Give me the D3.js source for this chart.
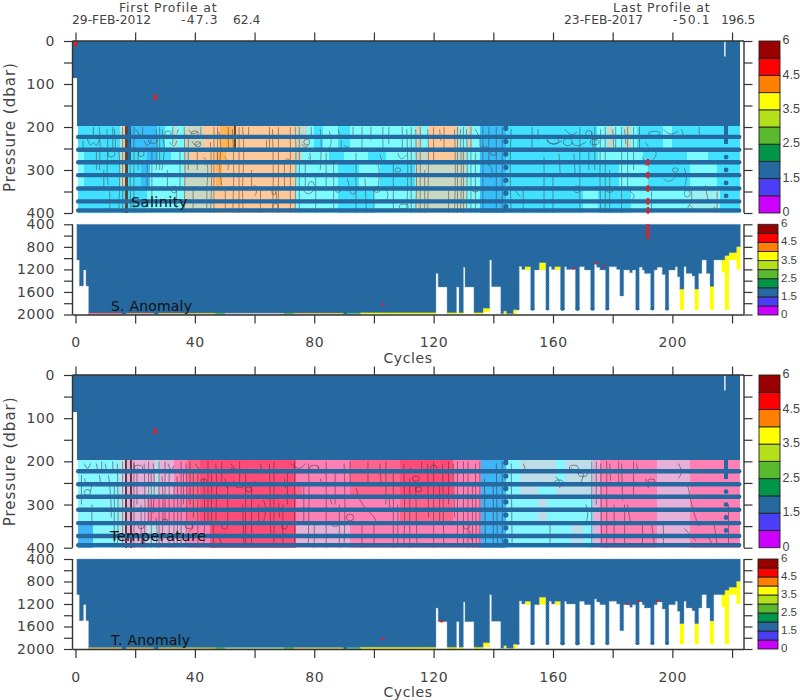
<!DOCTYPE html>
<html><head><meta charset="utf-8">
<script src="https://d3js.org/d3.v7.min.js"></script>
<style>
html,body{margin:0;padding:0;background:#fff}
svg{display:block}
text{font-family:"DejaVu Sans",sans-serif;fill:#444}
.bar{font-family:"Liberation Sans",sans-serif}
</style></head><body><div id="c"></div>
<script>
// ---------- values ----------
const colorClasses = ["#CC00FF","#4A3FF5","#2569A0","#009649","#59BA2E","#B3E019","#FFFF00","#FF8000","#FF0000","#990000"];
const colorTickLabels = [[0,"0"],[2,"1.5"],[4,"2.5"],[6,"3.5"],[8,"4.5"],[10,"6"]];
const steel = "#2569A0";
const cycleTicks = [0,20,40,60,80,100,120,140,160,180,200,220];
const cycleLabels = [0,40,80,120,160,200];
const upperPressTicks = [0,50,100,150,200,250,300,350,400];
const upperPressLabels = [0,100,200,300,400];
const lowerPressTicks = [400,600,800,1000,1200,1400,1600,1800,2000];
const lowerPressLabels = [400,800,1200,1600,2000];
const rowLevels = [223,253,282,312,343,373,394];
const bandEdges = [198,225,253,282,312,343,373,400];
const bandGroup = [0,0,1,2,2,3,3];

const salPalette = {a:"#7CFBFF",b:"#42E0FF",c:"#36BDFA",p:"#FFC898",o:"#FFB257",g:"#C9D8C2",k:"#5C4A3C",n:"#1F6FB0",t:"#9CF0F0"};
const salinityRuns = [
 [[0.7,"b"],[15,"g"],[16.6,"k"],[17.6,"n"],[18.6,"c"],[25,"c"],[27.3,"b"],[30,"a"],[33,"g"],[34,"a"],[36.2,"g"],[42.9,"p"],[48.5,"o"],[53,"k"],[53.8,"p"],[73.6,"g"],[77.5,"a"],[80,"b"],[83,"a"],[88,"b"],[92,"a"],[113.7,"g"],[116,"a"],[118.2,"p"],[127,"g"],[129,"a"],[131,"g"],[133,"a"],[135.5,"c"],[144.4,"b"],[162,"b"],[174.6,"a"],[178,"g"],[180,"a"],[184,"g"],[186,"a"],[188,"b"],[197,"a"],[200,"b"]],
 [[0.7,"a"],[3,"b"],[15,"g"],[16.6,"k"],[17.6,"n"],[18.6,"b"],[24,"c"],[27.3,"b"],[32,"a"],[36.2,"g"],[38.5,"p"],[47,"o"],[50.5,"p"],[73.6,"g"],[76,"a"],[85,"b"],[90,"a"],[98,"b"],[104,"a"],[113.7,"g"],[118.2,"p"],[127,"g"],[131,"a"],[135.5,"c"],[144.4,"b"],[165,"b"],[175,"a"],[190,"b"],[205,"a"],[212,"b"]],
 [[0.7,"a"],[3,"b"],[15,"g"],[16.6,"k"],[17.6,"b"],[22,"c"],[25,"a"],[36.2,"g"],[45,"p"],[47,"o"],[49,"p"],[73.6,"a"],[88,"b"],[95,"a"],[102,"b"],[113.7,"g"],[119,"g"],[127,"g"],[131,"a"],[135.5,"c"],[144.4,"b"],[152,"b"],[172,"b"],[182,"a"],[192,"b"],[206,"a"],[215,"b"]],
 [[0.7,"b"],[14.5,"b"],[16.6,"k"],[17.6,"b"],[24,"a"],[36.2,"g"],[46,"p"],[73.6,"a"],[88,"b"],[100,"a"],[113.7,"g"],[127,"g"],[131,"a"],[135.5,"c"],[144.4,"b"],[170,"a"],[175,"b"],[186,"a"],[206,"t"],[216,"b"]]
];
const palTemp = {a:"#86F6FF",c:"#3FB4F6",b:"#52D2FF",q:"#BCDCE8",m:"#E6B0D8",i:"#FF80B4",h:"#FF4C76",r:"#FF648C",k:"#7C3444"};
const temperatureRuns = [
 [[0.7,"a"],[14.7,"q"],[16.6,"k"],[17.4,"m"],[18.2,"k"],[18.9,"m"],[26.7,"q"],[28.4,"m"],[33,"i"],[37.3,"r"],[41.8,"h"],[74,"i"],[92,"r"],[108.7,"h"],[126.6,"i"],[136,"c"],[144.4,"a"],[149,"q"],[161,"a"],[164,"q"],[173.5,"m"],[175.6,"i"],[195,"m"],[206,"i"]],
 [[0.7,"a"],[14.7,"q"],[16.6,"k"],[17.4,"m"],[18.2,"k"],[18.9,"m"],[24,"q"],[27.5,"m"],[33,"i"],[37.3,"r"],[41.8,"h"],[74,"r"],[76,"i"],[92,"r"],[108.7,"h"],[126.6,"i"],[136,"c"],[144.4,"a"],[149,"q"],[155,"a"],[161,"q"],[173.5,"m"],[175.6,"i"],[195,"m"],[206,"i"]],
 [[0.7,"a"],[14.7,"q"],[16.6,"k"],[17.4,"m"],[18.2,"k"],[18.9,"m"],[24,"i"],[37.3,"r"],[41.8,"h"],[74,"i"],[108.7,"r"],[126.6,"i"],[136,"c"],[144.4,"a"],[149,"a"],[155,"q"],[158,"a"],[173.5,"m"],[175.6,"i"],[195,"m"],[206,"i"]],
 [[0.7,"c"],[6,"a"],[14.7,"q"],[16.6,"k"],[17.4,"m"],[18.2,"k"],[18.9,"m"],[24,"q"],[27.5,"m"],[37.3,"i"],[45,"h"],[74,"m"],[92,"i"],[126.6,"i"],[136,"c"],[144.4,"a"],[166,"q"],[170,"a"],[173.5,"m"],[175.6,"i"],[195,"m"],[206,"i"]]
];

// blue column depth in the lower panels: [first cycle, last cycle, blue bottom, yellow bottom or 0]
const lowerColumns = [
 [0.45,1.3,1034,0],[1.3,2.7,1496,0],[2.7,3.5,1212,0],[3.5,4.4,1496,0],[4.4,95.4,2000,0],[95.4,120.8,1968,2000],
 [120.8,121.5,1271,0],[121.5,124.5,1514,0],[124.5,127.7,1968,2000],[127.7,128.5,1514,0],[128.5,130,1968,2000],
 [130,130.5,1164,0],[130.5,133.5,1514,0],[133.5,136.6,1968,2000],[136.6,138.8,1890,1960],[138.8,139.4,1034,0],
 [139.4,142.5,1508,0],[142.5,143.5,1988,0],[143.5,144.4,1940,1988],[144.4,145.5,1988,0],[145.5,146.7,1988,2000],
 [146.7,147.8,1917,1988],[147.8,148.7,1917,0],[148.7,149.5,1147,0],[149.5,150.6,1200,0],[150.6,152.5,1153,1212],
 [152.5,153.8,1917,0],[153.8,155.4,1212,0],[155.4,157.6,1081,1212],[157.6,158.7,1917,0],[158.7,159.5,1153,0],
 [159.5,160.6,1200,0],[160.6,162.5,1153,1212],[162.5,163.9,1917,0],[163.9,164.5,1153,0],[164.5,167.5,1200,0],
 [167.5,168.9,1917,0],[168.9,170.5,1153,0],[170.5,172.6,1212,0],[172.6,173.9,1917,0],[173.9,174.6,1111,0],
 [174.6,175.7,1164,0],[175.7,177.6,1212,0],[177.6,178.8,1917,0],[178.8,181.3,1153,0],[181.3,182.4,1200,0],
 [182.4,183.7,1674,0],[183.7,185.7,1212,0],[185.7,186.6,1259,0],[186.6,187.7,1212,0],[187.7,188.9,1917,0],
 [188.9,189.9,1164,0],[189.9,190.6,1212,0],[190.6,192.7,1271,0],[192.7,193.9,1917,0],[193.9,194.9,1212,0],
 [194.9,196.6,1164,0],[196.6,197.6,1289,0],[197.6,198.8,1917,0],[198.8,201,1212,0],[201,201.7,1153,0],
 [201.7,202.5,1330,0],[202.5,203.9,1550,1917],[203.9,204.6,1153,0],[204.6,206.6,1271,0],[206.6,207.5,1318,0],
 [207.5,208.8,1550,1917],[208.8,209.9,1271,0],[209.9,211.4,1034,0],[211.4,212.6,1271,0],[212.6,213.9,1502,1917],
 [213.9,216.5,1034,0],[216.5,217.6,1034,1253],[217.6,219,957,1917],[219,221.5,904,1034],[221.5,222.8,797,1200]
];
const salinityStrip = [[4.4,15.5,"#F07878"],[17,26.4,"#F0A070"],[27.8,40,"#E8B860"],[40,47,"#D8D050"],[47,50,"#58BA50"],[50,70,"#C8C8C8"],[70,73,"#58BA50"],[73,89.8,"#E0C860"],[91,95.4,"#60C880"]];
const temperatureStrip = [[4.4,15.5,"#D8C060"],[17,26.4,"#E0C050"],[27.8,40,"#D8D050"],[40,47,"#B8D050"],[47,50,"#58BA50"],[50,70,"#A8D8A8"],[70,73,"#58BA50"],[73,89.8,"#D8D060"],[91,95.4,"#60C880"]];
const salinityRed = [[167,1190],[174.5,1095],[177,1150]];
const temperatureRed = [[122.5,1512],[185,1205],[188.6,1150],[195,1150],[122.8,1515]];

const dots144 = [203,234,263,294,324,354,385];
const dots218 = [270,300,330,360];
const block218 = [198,240];
const sliver218 = [2,36];
const redUpper = [[0,0,12],[26.7,124,137]];
const redSalinityDots = [282,312,343,373,394];
const redSalinityLower = [400,660];
const redLower = [[103,1822]];

const contoursS = [
 [[4,228],[5,248],[6,230],[7,250],[8,228]],[[8,200],[8.3,240],[8,300]],[[10.5,205],[11,250],[10.4,302],[11,335]],[[13,205],[13.6,245],[13,255]],
 [[14.5,250],[15,300],[14.5,395]],[[17,200],[17.4,300],[17,400]],[[18.5,205],[18.2,330],[18.6,395]],[[20,205],[22,222],[21,228]],[[23,232],[24,248],[25.5,230]],
 [[27,205],[27.5,250],[27,300]],[[29,205],[29.5,235],[30,250],[29,300]],[[31.5,235],[33,250],[34,232]],[[34.5,205],[34,215]],[[36.4,200],[36.8,300],[36.4,400]],
 [[38,206],[39,218],[41,212]],[[39,232],[40,246],[42,235]],[[43,270],[44,280],[44.5,300],[44,340]],[[45.2,235],[45.8,320],[45.2,398]],[[48,210],[49,250],[48,290],[49,335]],
 [[50,270],[51.5,280],[51,300]],[[52.6,205],[53.2,290],[52.7,398]],[[56,200],[56.6,260],[55.8,345],[56.2,398]],[[60,335],[61,350],[60,360]],[[66,205],[66.4,310],[66,398]],
 [[67,350],[67.6,360],[67,372]],[[73.6,200],[74,260],[73.6,395]],[[76,240],[77,250],[78,242]],[[78,270],[79,280],[78.5,260]],[[76,345],[78,360],[80,346]],[[82,205],[82.5,240],[82,300]],
 [[85,210],[86,235],[85,250]],[[88,205],[88.6,225]],[[90,243],[92,250]],[[91,320],[92,340],[91,350]],[[97,320],[97.5,400]],[[101,280],[102,300],[101.5,340]],[[102,265],[103,285]],[[104,340],[105,360],[104,372]],
 [[108,260],[109,280],[111,264]],[[111,205],[111.5,300],[111,395]],[[114,205],[114.4,330],[114,395]],[[118,205],[118.4,260],[118,398]],[[122,205],[122.4,232]],[[127,205],[127.4,300],[127,398]],
 [[129,205],[129.4,330],[129,395]],[[131,205],[131.4,290],[131,398]],[[134,205],[136,232],[135,250],[138,245]],[[138,280],[140,300],[139,320]],[[146,205],[145.5,300],[146,398]],[[147,345],[149,362]],[[155,205],[155,230]],[[158,230],[160,245],[163,232]],
 [[162,262],[162.4,308]],[[164,205],[166,222],[168,212]],[[166,235],[168,248],[171,235]],[[167,262],[167.4,308]],[[173,210],[173.4,248]],[[176,205],[175.6,300],[176,398]],[[180,205],[180.4,248]],[[184,205],[184.4,240]],
 [[185,345],[188,360],[186,372]],[[191,236],[192,246]],[[194,250],[195,265],[193,280]],[[190,270],[191,290]],[[197,205],[199,220],[202,210]],[[197,320],[199,330],[201,316]],[[203,205],[204,222],[202,224]],[[204,295],[205,320],[204,340]],[[206,340],[207,365],[205,390]],[[211,335],[212,372]],[[206,382],[208,398]],[[214,385],[214.4,398]]
];
const verticalsS = [[2.5,232,250],[6,200,222],[7,255,300],[9.5,300,340],[11.5,350,395],[12.5,200,250],[15.8,200,400],[19.6,200,400],[21,255,300],[22.5,200,222],[24,285,340],[25.6,255,400],[28.2,200,300],[30.8,300,345],[32.6,200,240],[33.8,345,395],[35,250,345],[37.8,225,300],[39.4,345,395],[40.8,255,300],[42,200,225],[44,345,395],[46.4,200,400],[47.6,200,280],[50.2,345,395],[51.2,200,250],[54.8,200,400],[58,200,225],[59,300,345],[62,345,400],[64,230,250],[65,200,250],[68,200,400],[70,280,345],[72,200,400],[75,200,400],[77,285,345],[79,200,225],[80.5,315,400],[84,260,340],[86.5,285,395],[89,230,250],[93,200,225],[94,260,400],[96,200,250],[99,200,230],[100,345,400],[103,200,250],[105,200,240],[106.5,285,395],[109.5,200,250],[112.5,200,400],[115.5,200,400],[117,300,400],[120,200,280],[123.5,200,250],[125,345,400],[128,200,400],[130,200,400],[132.5,200,400],[134,260,400],[136.5,200,400],[138.5,200,290],[141,200,400],[143,200,400],[150,345,400],[153,200,250],[157,270,400],[160,315,400],[169,200,395],[172,255,300],[174,200,300],[177.5,200,400],[179,300,400],[181,200,250],[183,200,400],[185,200,340],[187,200,300],[189,200,250],[193,350,400],[209,200,225],[215,350,400]];
const loopsS = [[12,262,1.2,8],[22,262,1,7],[26,232,1.5,6],[31,215,1,6],[33,345,1,8],[40,215,1.2,6],[41,240,1,6],[66.5,350,0.7,8],[67,385,0.8,7],[71,280,0.7,6],[77.5,235,1,7],[79,335,1,8],[88,345,1,7],[93,350,1,6],[101,345,1.2,7],[108,300,1,5],[110,385,1.5,6],[134,345,1.2,6],[140,260,1,6],[160,232,2,7],[165,235,1.5,8],[168,345,1,8],[172,215,1,7],[174,235,1.5,6],[179,345,1.2,7],[194,215,2,5],[201,300,1,5],[205,355,1,8]];
const contoursT = [
 [[3,205],[4,222],[5,205]],[[7,205],[7.4,222]],[[10,205],[10.4,225]],[[3,240],[4,262],[6,242],[5,270]],[[8,232],[8.5,255]],[[11,232],[11.4,250],[12,300],[12,330]],[[14,205],[14.4,330],[14,400]],
 [[16.8,200],[17.2,300],[16.8,400]],[[18.4,200],[18.8,300],[18.4,400]],[[19.5,205],[20,225],[21,215]],[[23,205],[23.4,300],[23,400]],[[26,205],[26.6,250],[26,320]],[[27,330],[27.5,370],[27,400]],
 [[29,235],[29.5,300],[29,398]],[[31,205],[32,225],[33,210]],[[34,235],[34.4,300],[34,395]],[[37,205],[37.4,260],[37,395]],[[40,205],[42,222]],[[38,340],[40,355],[38,362]],[[43,240],[43.4,330],[43,395]],
 [[47,205],[47.4,250],[47,345]],[[48,370],[49,395]],[[52,205],[54,222],[52,215]],[[50,240],[51,262]],[[53,245],[54,262],[55,250]],[[56,300],[56.4,390]],[[60,245],[61,258]],[[62,205],[62.4,225]],[[63,290],[64,312],[63,340]],[[65,205],[65.4,370]],
 [[68,295],[68.4,330]],[[72,205],[75,222],[77,205]],[[70,240],[70.4,262]],[[78,205],[78.4,260],[78,395]],[[81,210],[82,222],[80,225]],[[82,240],[83,260]],[[85,280],[86,300]],[[90,205],[90.4,300],[90,395]],[[95,285],[97,310],[100,325],[101,345]],[[94,262],[95,285]],
 [[102,205],[102.4,255]],[[105,275],[105.4,312]],[[110,205],[110.4,320],[110,395]],[[112,215],[114,225],[111,222]],[[114,255],[114.4,395]],[[118,205],[118.3,330]],[[123,205],[123.4,395]],[[126.6,205],[127,330]],[[132,360],[133,385]],[[134,205],[134.3,398]],
 [[137,240],[137.4,395]],[[141,205],[141.4,395]],[[146,205],[146.3,395]],[[150,205],[151,222]],[[161,235],[163,255],[162,262]],[[166,215],[168,230],[171,222],[169,255]],[[171,300],[172,320],[171,345]],[[176,205],[176.3,398]],[[179,205],[179.3,245]],[[183,205],[183.3,290]],[[185,300],[186,345]],
 [[191,240],[192,262]],[[188,205],[188.4,225]],[[193,340],[194,395]],[[202,205],[203.5,225],[202,240]],[[205,250],[207,320],[209,350]],[[204,355],[208,385]],[[214,345],[215,395]],[[212,375],[214,398]]
];
const verticalsT = [[2,232,300],[5.5,300,345],[8.8,200,222],[12.5,200,222],[13,255,395],[15.8,200,400],[19.6,200,400],[20.6,225,300],[22,300,400],[24.5,200,345],[25.4,225,400],[28,200,400],[30,200,345],[31.4,225,400],[33,255,400],[35.4,200,400],[36.2,225,300],[38.4,200,300],[39.5,225,330],[41,225,400],[44.4,200,345],[45.6,225,345],[46.2,345,400],[49,200,250],[51,255,345],[55,200,250],[57,225,400],[59,255,400],[61.4,300,345],[66.5,200,400],[69.5,300,400],[71,225,300],[73.4,200,400],[76.5,255,345],[80,345,400],[84,200,400],[87,225,300],[88.4,300,400],[92,200,250],[96,345,400],[98,200,250],[100,345,395],[104,200,300],[106.5,225,400],[108,300,395],[112,240,400],[116,200,225],[120,200,400],[122,250,345],[125,200,300],[128,200,395],[130,200,395],[131.5,200,400],[133,250,400],[135.5,200,400],[140,255,395],[143,200,400],[159,345,395],[173,200,400],[174.5,200,300],[178,200,400],[180.5,300,395],[182,200,250],[184,300,395],[187,200,280],[190,345,395],[197,345,390],[218.8,300,395]];
const loopsT = [[4,272,1,7],[21,215,1.5,6],[22,350,1,6],[30,340,1,6],[38,350,1.3,6],[43,245,1,5],[50,350,1,7],[55,255,1.5,6],[58,265,1,6],[70,350,1,7],[80,215,1.5,6],[87,345,1.2,6],[92,330,1.2,8],[114,240,1.2,6],[115,265,1,6],[120,215,1,6],[162,250,1.5,7],[167,215,1.5,6],[170,230,1.5,5],[193,245,1.2,4],[131,350,1,7]];

// ---------- scales and helpers ----------
const W=800,H=700;
const svg=d3.select("#c").append("svg").attr("width",W).attr("height",H);
const x=d3.scaleLinear().domain([-1,224]).range([72.5,744]);
const axisColor="#333";
const fs=14;

function label(g,xp,yp,t,anchor,size,spacing){
  return g.append("text").attr("x",xp).attr("y",yp).attr("text-anchor",anchor||"start")
    .attr("font-size",size||fs).attr("letter-spacing",(spacing==null?0.6:spacing)+"px").text(t);
}

function yAxes(y,ticks,labels){
  const left=svg.append("g").attr("transform","translate(72.5,0)").call(
    d3.axisLeft(y).tickValues(ticks).tickSize(8.5).tickPadding(9)
      .tickFormat(d=>labels.includes(d)?d:""));
  const right=svg.append("g").attr("transform","translate(744,0)").call(
    d3.axisRight(y).tickValues(ticks).tickSize(8.5).tickFormat(""));
  [left,right].forEach(a=>{a.select(".domain").attr("stroke",axisColor).attr("stroke-width",1.4).attr("d",`M0,${y.range()[0]}V${y.range()[1]}`);
    a.selectAll(".tick line").attr("stroke",axisColor).attr("stroke-width",1.2);
    a.selectAll("text").attr("font-size",fs).attr("letter-spacing","0.6px").style("font-family",'"DejaVu Sans",sans-serif').attr("fill","#444");});
}

function colorBar(xp,w,y0,y1,size,lx){
  const s=d3.scaleLinear().domain([0,10]).range([y1,y0]);
  const g=svg.append("g");
  g.selectAll("rect").data(colorClasses).join("rect")
    .attr("x",xp).attr("width",w).attr("y",(d,i)=>s(i+1)).attr("height",(d,i)=>s(i)-s(i+1))
    .attr("fill",d=>d).attr("stroke","#222").attr("stroke-width",0.9);
  g.selectAll("text").data(colorTickLabels).join("text").attr("class","bar")
    .attr("x",lx).attr("y",d=>s(d[0])).attr("dominant-baseline","middle")
    .attr("font-size",size).text(d=>d[1]);
}

function upperPanel(y,runs,pal,contours,verticals,loops,name,nameX,nameY,lineColor,redDots){
  const g=svg.append("g");
  const rect=(c0,c1,p0,p1,fill)=>g.append("rect").attr("x",x(c0)).attr("width",x(c1)-x(c0))
    .attr("y",y(p0)).attr("height",y(p1)-y(p0)).attr("fill",fill).attr("shape-rendering","crispEdges");
  bandGroup.forEach((grp,b)=>{
    const r=runs[grp];
    r.forEach((run,i)=>{
      const end=i+1<r.length?r[i+1][0]:222.8;
      rect(run[0],end,bandEdges[b],bandEdges[b+1],pal[run[1]]);
    });
  });
  const line=d3.line().x(d=>x(d[0])).y(d=>y(d[1])).curve(d3.curveBasis);
  const cg=g.append("g").attr("fill","none").attr("stroke",lineColor).attr("stroke-width",0.85).attr("stroke-opacity",0.6);
  cg.selectAll("path.ct").data(contours).join("path").attr("class","ct").attr("d",line);
  cg.selectAll("line.v").data(verticals).join("line").attr("class","v")
    .attr("x1",d=>x(d[0])).attr("x2",d=>x(d[0])).attr("y1",d=>y(d[1])).attr("y2",d=>y(d[2]));
  cg.selectAll("ellipse").data(loops).join("ellipse")
    .attr("cx",d=>x(d[0])).attr("cy",d=>y(d[1])).attr("rx",d=>x(d[2])-x(0)).attr("ry",d=>y(d[3])-y(0));
  rect(-1,0.45,0,86,steel); rect(0.45,222.8,0,198,steel);
  g.selectAll("line.row").data(rowLevels).join("line").attr("class","row")
    .attr("x1",x(0.9)).attr("x2",x(222.4)).attr("y1",d=>y(d)).attr("y2",d=>y(d))
    .attr("stroke",steel).attr("stroke-width",4.4).attr("stroke-linecap","round");
  rect(143.6,145,198,206,steel);
  g.selectAll("circle.d144").data(dots144).join("circle").attr("class","d144")
    .attr("cx",x(144.2)).attr("cy",d=>y(d)).attr("r",2.6).attr("fill",steel);
  rect(217.2,218.8,block218[0],block218[1],steel);
  g.selectAll("circle.d218").data(dots218).join("circle").attr("class","d218")
    .attr("cx",x(218)).attr("cy",d=>y(d)).attr("r",2.4).attr("fill",steel);
  g.append("line").attr("x1",x(217.6)).attr("x2",x(217.6)).attr("y1",y(sliver218[0])).attr("y2",y(sliver218[1]))
    .attr("stroke","#fff").attr("stroke-width",1.3);
  g.selectAll("line.red").data(name==="Salinity"?redUpper:[redUpper[1]]).join("line").attr("class","red")
    .attr("x1",d=>x(d[0])).attr("x2",d=>x(d[0])).attr("y1",d=>y(d[1])).attr("y2",d=>y(d[2]))
    .attr("stroke","#F01818").attr("stroke-width",3);
  if(redDots) g.selectAll("rect.rd").data(redDots).join("rect").attr("class","rd")
    .attr("x",x(191.8)-1.3).attr("width",2.6).attr("y",d=>y(d)-3.3).attr("height",6.6).attr("fill","#F01818");
  yAxes(y,upperPressTicks,upperPressLabels);
  const top=svg.append("g").attr("transform",`translate(0,${y(0)})`).call(d3.axisTop(x).tickValues(cycleTicks).tickSize(8.5).tickFormat(""));
  top.select(".domain").attr("stroke",axisColor).attr("stroke-width",1.4).attr("d",`M72.5,0H744`);
  top.selectAll(".tick line").attr("stroke",axisColor).attr("stroke-width",1.2);
  label(svg,nameX,nameY,name,"start",14.5,0.4).style("fill","#111");
  label(svg,0,0,"Pressure (dbar)","middle",15,1.0).attr("transform",`translate(15,${(y(0)+y(400))/2}) rotate(-90)`);
}

function lowerPanel(y,strip,redMarks,name,nameY){
  const g=svg.append("g");
  const rect=(c0,c1,p0,p1,fill)=>g.append("rect").attr("x",x(c0)).attr("width",x(c1)-x(c0))
    .attr("y",y(p0)).attr("height",y(p1)-y(p0)).attr("fill",fill);
  lowerColumns.filter(c=>c[3]).forEach(c=>
    g.append("rect").attr("x",x(c[0])).attr("width",x(c[1])-x(c[0])).attr("y",y(c[2])-1)
      .attr("height",y(c[3])-y(c[2])+1).attr("fill","#FFFF00"));
  // blue field, one stepped outline through every column
  const stepData=lowerColumns.map(c=>({c:c[0],p:c[2]})).concat([{c:222.8,p:797}]);
  g.append("path").datum(stepData)
    .attr("d",d3.area().x(d=>x(d.c)).y0(y(400)).y1(d=>y(d.p)).curve(d3.curveStepAfter))
    .attr("fill",steel).attr("stroke","#7FA6C6").attr("stroke-width",0.7).attr("stroke-dasharray","1.4 1.4");
  // round feet of the deep narrow columns
  g.selectAll("circle.foot").data(lowerColumns.filter(c=>c[2]===1917&&!c[3])).join("circle").attr("class","foot")
    .attr("cx",d=>x((d[0]+d[1])/2)).attr("cy",d=>y(d[2])-1).attr("r",d=>(x(d[1])-x(d[0]))/2).attr("fill",steel);
  strip.forEach(s=>rect(s[0],s[1],1972,2000,s[2]));
  g.selectAll("rect.rm").data(redMarks).join("rect").attr("class","rm")
    .attr("x",d=>x(d[0])-1.3).attr("width",2.6).attr("y",d=>y(d[1])-1.2).attr("height",1.8).attr("fill","#E81818");
  g.selectAll("rect.rl").data(redLower).join("rect").attr("class","rl")
    .attr("x",d=>x(d[0])-1.2).attr("width",2.4).attr("y",d=>y(d[1])-1.2).attr("height",2.4).attr("fill","#F01818");
  if(name==="S. Anomaly") rect(191.3,192.2,redSalinityLower[0],redSalinityLower[1],"#F01818");
  yAxes(y,lowerPressTicks,lowerPressLabels);
  const bot=svg.append("g").attr("transform",`translate(0,${y(2000)+0.5})`).call(
    d3.axisBottom(x).tickValues(cycleTicks).tickSize(8.5).tickPadding(14).tickFormat(d=>cycleLabels.includes(d)?d:""));
  bot.select(".domain").attr("stroke",axisColor).attr("stroke-width",1.4).attr("d",`M72.5,0H744`);
  bot.selectAll(".tick line").attr("stroke",axisColor).attr("stroke-width",1.2);
  bot.selectAll("text").attr("font-size",fs).attr("letter-spacing","0.6px").style("font-family",'"DejaVu Sans",sans-serif').attr("fill","#444");
  label(svg,408,y(2000)+48,"Cycles","middle",14,0.6);
  label(svg,111,nameY,name,"start",14,0.2).style("fill","#111");
}

const y1=d3.scaleLinear().domain([0,400]).range([41,213]);
const y2=d3.scaleLinear().domain([400,2000]).range([224.3,314.5]);
const y3=d3.scaleLinear().domain([0,400]).range([375,547.7]);
const y4=d3.scaleLinear().domain([400,2000]).range([559,649]);

lowerPanel(y2,salinityStrip,salinityRed,"S. Anomaly",311);
upperPanel(y1,salinityRuns,salPalette,contoursS,verticalsS,loopsS,"Salinity",131,207,"#4A3A30",redSalinityDots);
lowerPanel(y4,temperatureStrip,temperatureRed,"T. Anomaly",645);
upperPanel(y3,temperatureRuns,palTemp,contoursT,verticalsT,loopsT,"Temperature",110,541,"#3A2A30",null);

colorBar(759,21,41,213,12.5,782.5);
colorBar(758,20,224.3,315,11.5,781);
colorBar(759,21,375,547.7,12.5,782.5);
colorBar(758,20,559,649,11.5,781);

label(svg,119,12,"First Profile at","start",12.5,0.8);
label(svg,72,24,"29-FEB-2012","start",12.3,0);
label(svg,181,24,"-47.3","start",12.3,1.2);
label(svg,233,24,"62.4","start",12.3,0);
label(svg,613,12,"Last Profile at","start",12.5,0.8);
label(svg,564,24,"23-FEB-2017","start",12.3,0);
label(svg,673,24,"-50.1","start",12.3,1.2);
label(svg,721,24,"196.5","start",12.3,-0.2);
</script></body></html>
